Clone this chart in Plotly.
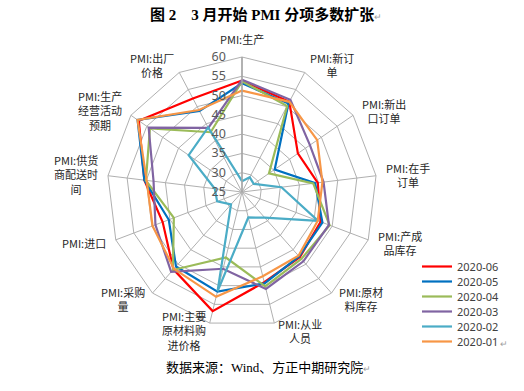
import math
import plotly.graph_objects as go

categories = ["PMI:生产", "PMI:新订<br>单", "PMI:新出<br>口订单", "PMI:在手<br>订单",
              "PMI:产成<br>品库存", "PMI:原材<br>料库存", "PMI:从业<br>人员",
              "PMI:主要<br>原材料购<br>进价格", "PMI:采购<br>量", "PMI:进口",
              "PMI:供货<br>商配送时<br>间", "PMI:生产<br>经营活动<br>预期", "PMI:出厂<br>价格"]

series_names = ["2020-06", "2020-05", "2020-04", "2020-03", "2020-02", "2020-01"]
v_2020_06 = [53.9, 51.4, 42.6, 44.8, 46.8, 47.6, 49.1, 56.8, 51.8, 47.0, 50.5, 57.5, 52.4]
v_2020_05 = [53.2, 50.9, 35.3, 44.1, 47.3, 47.3, 49.4, 51.6, 50.8, 45.3, 50.5, 57.9, 48.7]
v_2020_04 = [53.7, 50.2, 33.5, 43.6, 49.3, 48.2, 50.2, 42.5, 52.0, 43.9, 50.1, 54.0, 42.5]
v_2020_03 = [54.1, 52.0, 46.4, 46.3, 49.1, 49.0, 50.9, 45.5, 52.7, 49.0, 48.1, 54.4, 43.8]
v_2020_02 = [27.8, 29.3, 28.7, 35.3, 46.1, 33.9, 31.8, 51.5, 29.3, 31.9, 32.1, 41.8, 43.9]
v_2020_01 = [51.3, 51.4, 48.7, 46.0, 46.0, 47.1, 47.5, 53.0, 51.6, 49.8, 49.9, 57.9, 49.0]
all_values = [v_2020_06, v_2020_05, v_2020_04, v_2020_03, v_2020_02, v_2020_01]
colors = ["#FF0000", "#0070C0", "#9BBB59", "#8064A2", "#4BACC6", "#F79646"]

radial_ticks = [25, 30, 35, 40, 45, 50, 55, 60]

W, H = 524, 391
cx, cy, R = 242, 192, 135

fig = go.Figure()
legend_layouts = {}
for i, (name, vals, col) in enumerate(zip(series_names, all_values, colors)):
    lg = "legend" if i == 0 else f"legend{i + 1}"
    fig.add_trace(go.Scatterpolar(
        r=vals + [vals[0]], theta=categories + [categories[0]],
        mode="lines", name=name, line=dict(color=col, width=2.2),
        legend=lg, showlegend=True))
    legend_layouts[lg] = dict(
        x=417 / W, y=1 - (266.5 + 15 * i) / H, xanchor="left", yanchor="middle",
        bgcolor="rgba(0,0,0,0)", borderwidth=0, visible=True,
        font=dict(family="Noto Sans", size=11, color="#404040"))

# category labels placed just outside the outer polygon, like the original chart
n = len(categories)
label_annotations = []
for i, cat in enumerate(categories):
    th = 2 * math.pi * i / n
    s, c = math.sin(th), math.cos(th)
    px = cx + (R + 8) * s
    py = cy - (R + 8) * c
    if abs(s) < 0.05:
        xa, ya = "center", ("bottom" if c > 0 else "top")
    else:
        xa, ya = ("left" if s > 0 else "right"), "middle"
    label_annotations.append(dict(
        text=cat, x=px / W, y=1 - py / H, xref="paper", yref="paper",
        xanchor=xa, yanchor=ya, align="center", showarrow=False,
        font=dict(family="Noto Sans CJK SC", size=11, color="#262626")))

fig.update_layout(
    width=W, height=H, margin=dict(l=0, r=0, t=0, b=0),
    paper_bgcolor="white", plot_bgcolor="white", showlegend=True,
    font=dict(family="Noto Sans CJK SC", color="#404040"),
    polar=dict(
        domain=dict(x=[(cx - R) / W, (cx + R) / W], y=[(H - cy - R) / H, (H - cy + R) / H]),
        gridshape="linear", bgcolor="white",
        radialaxis=dict(range=[25, 60], tickvals=radial_ticks, angle=90, side="counterclockwise",
                        tickangle=90, showline=True, linecolor="#A6A6A6", linewidth=1.5,
                        gridcolor="#B0B0B0", gridwidth=1,
                        ticks="outside", ticklen=11, tickcolor="rgba(0,0,0,0)",
                        tickfont=dict(family="Noto Sans", size=12.5, color="#595959")),
        angularaxis=dict(direction="clockwise", rotation=90, linecolor="#B0B0B0", linewidth=1,
                         gridcolor="#B0B0B0", gridwidth=1, ticks="", showticklabels=False),
    ),
    annotations=label_annotations + [
        dict(text="<b>图 2　3 月开始 PMI 分项多数扩张</b><span style='color:#A0A0A0;font-size:9px'>↵</span>",
             x=266 / W, y=1 - 15 / H, xref="paper", yref="paper", showarrow=False,
             xanchor="center", yanchor="middle",
             font=dict(family="Liberation Serif, Noto Sans CJK SC", size=15, color="#000000")),
        dict(text="数据来源：Wind、方正中期研究院<span style='color:#A0A0A0;font-size:9px'>↵</span>",
             x=268 / W, y=1 - 367 / H, xref="paper", yref="paper", showarrow=False,
             xanchor="center", yanchor="middle",
             font=dict(family="Liberation Serif, Noto Sans CJK SC", size=13, color="#000000")),
        dict(text="↵", x=504 / W, y=1 - 343 / H, xref="paper", yref="paper", showarrow=False,
             xanchor="center", yanchor="middle",
             font=dict(family="Noto Sans", size=9, color="#A0A0A0")),
    ],
    **legend_layouts,
)
fig.write_html("out.html")
